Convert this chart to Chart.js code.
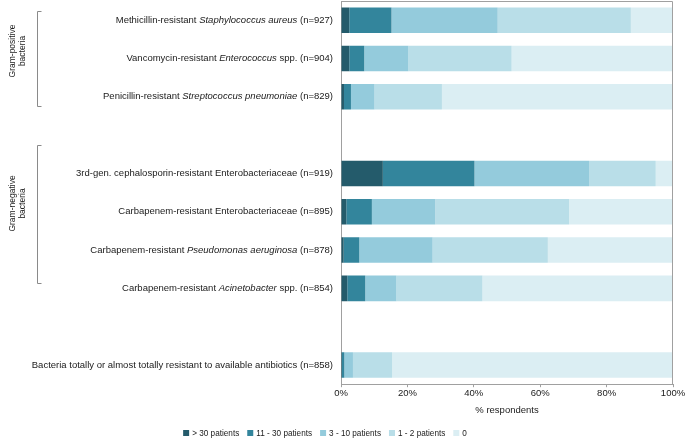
<!DOCTYPE html>
<html>
<head>
<meta charset="utf-8">
<script src="https://cdn.jsdelivr.net/npm/chart.js@4/dist/chart.umd.min.js"></script>
<style>
  html, body { margin: 0; padding: 0; background: #ffffff; }
  #wrap { width: 685px; height: 440px; position: relative; }
</style>
</head>
<body>
<div id="wrap"><canvas id="c" width="685" height="440"></canvas></div>
<script>
// Categories (text between * is italic); '' rows are spacer rows
const categories = [
  'Methicillin-resistant *Staphylococcus aureus* (n=927)',
  'Vancomycin-resistant *Enterococcus* spp. (n=904)',
  'Penicillin-resistant *Streptococcus pneumoniae* (n=829)',
  '',
  '3rd-gen. cephalosporin-resistant Enterobacteriaceae (n=919)',
  'Carbapenem-resistant Enterobacteriaceae (n=895)',
  'Carbapenem-resistant *Pseudomonas aeruginosa* (n=878)',
  'Carbapenem-resistant *Acinetobacter* spp. (n=854)',
  '',
  'Bacteria totally or almost totally resistant to available antibiotics (n=858)'
];

const seriesNames = ['> 30 patients', '11 - 30 patients', '3 - 10 patients', '1 - 2 patients', '0'];

const over30   = [2.5, 2.5, 0.9, null, 12.6, 1.6, 0.8, 1.9, null, 0.3];
const p11to30  = [12.7, 4.5, 2.1, null, 27.6, 7.7, 4.7, 5.4, null, 0.7];
const p3to10   = [32.0, 13.3, 7.1, null, 34.5, 19.1, 22.1, 9.4, null, 2.6];
const p1to2    = [40.1, 31.1, 20.3, null, 20.1, 40.3, 34.7, 25.9, null, 11.8];
const zeroPat  = [12.7, 48.6, 69.6, null, 5.2, 31.3, 37.7, 57.4, null, 84.6];

const xTicks = [0, 20, 40, 60, 80, 100];

const groups = [
  { lines: ['Gram-positive', 'bacteria'], from: 0, to: 2, topOff: -0.238, botOff: 0.25, textOff: -8 },
  { lines: ['Gram-negative', 'bacteria'], from: 4, to: 7, topOff: -0.75, botOff: -0.152, textOff: -11 }
];

const colors = ['#245b6b', '#33859c', '#94cbdc', '#b9dee8', '#dbeef3'];
const FONT = 'Arial, "Liberation Sans", sans-serif';

const seriesValues = [over30, p11to30, p3to10, p1to2, zeroPat];

const datasets = seriesValues.map((vals, i) => ({
  label: seriesNames[i],
  data: vals,
  backgroundColor: colors[i],
  borderWidth: 0,
  categoryPercentage: 1.0,
  barPercentage: 0.667
}));

const decorPlugin = {
  id: 'decor',
  afterDraw(chart) {
    const { ctx, chartArea: ca, scales: { y } } = chart;
    ctx.save();
    // top & right frame lines
    ctx.strokeStyle = '#a0a0a0';
    ctx.lineWidth = 1;
    ctx.beginPath();
    ctx.moveTo(Math.round(ca.left) + 0.5, Math.round(ca.top) + 0.5);
    ctx.lineTo(Math.round(ca.right) - 0.5, Math.round(ca.top) + 0.5);
    ctx.lineTo(Math.round(ca.right) - 0.5, Math.round(ca.bottom));
    ctx.stroke();

    // category labels with mixed italics
    ctx.fillStyle = '#1a1a1a';
    ctx.textBaseline = 'middle';
    const rightX = ca.left - 8;
    const size = 9.5;
    categories.forEach((lab, i) => {
      if (!lab) return;
      const parts = lab.split('*');
      let total = 0;
      const widths = parts.map((p, k) => {
        ctx.font = (k % 2 ? 'italic ' : '') + size + 'px ' + FONT;
        const w = ctx.measureText(p).width;
        total += w;
        return w;
      });
      let x = rightX - total;
      const yy = y.getPixelForValue(i);
      parts.forEach((p, k) => {
        ctx.font = (k % 2 ? 'italic ' : '') + size + 'px ' + FONT;
        ctx.textAlign = 'left';
        ctx.fillText(p, x, yy);
        x += widths[k];
      });
    });

    // group brackets
    const step = y.getPixelForValue(1) - y.getPixelForValue(0);
    ctx.strokeStyle = '#8a8a8a';
    groups.forEach((g) => {
      const top = Math.round(y.getPixelForValue(g.from) + step * g.topOff) + 0.5;
      const bot = Math.round(y.getPixelForValue(g.to) + step * g.botOff) + 0.5;
      const bx = 37.5;
      ctx.beginPath();
      ctx.moveTo(bx + 4, top);
      ctx.lineTo(bx, top);
      ctx.lineTo(bx, bot);
      ctx.lineTo(bx + 4, bot);
      ctx.stroke();
      const cy = (top + bot) / 2 + g.textOff;
      ctx.save();
      ctx.translate(17.5, cy);
      ctx.rotate(-Math.PI / 2);
      ctx.font = '8.5px ' + FONT;
      ctx.textAlign = 'center';
      ctx.textBaseline = 'middle';
      ctx.fillStyle = '#1a1a1a';
      ctx.fillText(g.lines[0], 0, -5);
      ctx.fillText(g.lines[1], 0, 5);
      ctx.restore();
    });

    // custom legend
    const lsize = 8.2;
    ctx.font = lsize + 'px ' + FONT;
    const box = 6, gap = 3, spacing = 8;
    const items = seriesNames.map(n => ctx.measureText(n).width);
    let totalW = 0;
    items.forEach((w, i) => { totalW += box + gap + w + (i < items.length - 1 ? spacing : 0); });
    let lx = 325 - totalW / 2;
    const ly = 433;
    ctx.textAlign = 'left';
    ctx.textBaseline = 'middle';
    seriesNames.forEach((n, i) => {
      ctx.fillStyle = colors[i];
      ctx.fillRect(lx, ly - box / 2, box, box);
      ctx.fillStyle = '#1a1a1a';
      ctx.fillText(n, lx + box + gap, ly + 0.5);
      lx += box + gap + items[i] + spacing;
    });
    ctx.restore();
  }
};

new Chart(document.getElementById('c'), {
  type: 'bar',
  data: { labels: categories, datasets },
  options: {
    indexAxis: 'y',
    responsive: false,
    animation: false,
    maintainAspectRatio: false,
    layout: { padding: { top: 1, right: 0, left: 0, bottom: 24 } },
    plugins: {
      legend: { display: false },
      tooltip: { enabled: false }
    },
    scales: {
      x: {
        stacked: true,
        min: 0,
        max: 100,
        afterBuildTicks(scale) { scale.ticks = xTicks.map(v => ({ value: v })); },
        afterFit(scale) { scale.paddingRight = 12; scale.paddingLeft = 0; },
        ticks: {
          callback: v => v + '%',
          font: { family: FONT, size: 9.5 },
          color: '#1a1a1a',
          padding: 0,
          maxRotation: 0
        },
        grid: { display: true, drawOnChartArea: false, drawTicks: true, tickLength: 3, color: '#a0a0a0' },
        border: { display: true, color: '#a0a0a0' },
        title: {
          display: true,
          text: '% respondents',
          font: { family: FONT, size: 9.5 },
          color: '#1a1a1a',
          padding: { top: 6, bottom: 0 }
        }
      },
      y: {
        stacked: true,
        ticks: { display: false },
        grid: { display: false, drawTicks: false },
        border: { display: true, color: '#a0a0a0' },
        afterFit(scale) { scale.width = 341; }
      }
    }
  },
  plugins: [decorPlugin]
});
</script>
</body>
</html>
